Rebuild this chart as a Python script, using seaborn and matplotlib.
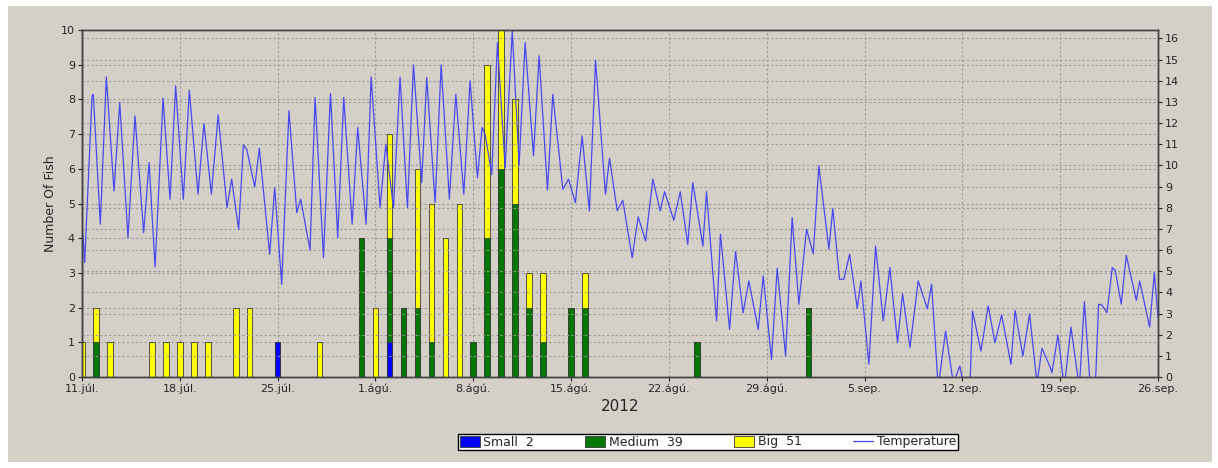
import pandas as pd
import seaborn as sns
import matplotlib.pyplot as plt
from matplotlib.patches import Patch, Rectangle
from matplotlib.lines import Line2D

# Fish caught per day (only days with a catch)
fish_dates = ['2012-07-11', '2012-07-12', '2012-07-13', '2012-07-16', '2012-07-17',
              '2012-07-18', '2012-07-19', '2012-07-20', '2012-07-22', '2012-07-23',
              '2012-07-25', '2012-07-28', '2012-07-31', '2012-08-01', '2012-08-02',
              '2012-08-03', '2012-08-04', '2012-08-05', '2012-08-06', '2012-08-07',
              '2012-08-08', '2012-08-09', '2012-08-10', '2012-08-11', '2012-08-12',
              '2012-08-13', '2012-08-15', '2012-08-16', '2012-08-24', '2012-09-01']
small = [0, 0, 0, 0, 0, 0, 0, 0, 0, 0, 1, 0, 0, 0, 1,
         0, 0, 0, 0, 0, 0, 0, 0, 0, 0, 0, 0, 0, 0, 0]
medium = [0, 1, 0, 0, 0, 0, 0, 0, 0, 0, 0, 0, 4, 0, 3,
          2, 2, 1, 0, 0, 1, 4, 6, 5, 2, 1, 2, 2, 1, 2]
big = [1, 1, 1, 1, 1, 1, 1, 1, 2, 2, 0, 1, 0, 2, 3,
       0, 4, 4, 4, 5, 0, 5, 4, 3, 1, 2, 0, 1, 0, 0]

tick_labels = ['11.júl.', '18.júl.', '25.júl.', '1.ágú.', '8.ágú.', '15.ágú.',
               '22.ágú.', '29.ágú.', '5.sep.', '12.sep.', '19.sep.', '26.sep.']

# Temperature (days after 11 July, deg C), peaks and troughs
temp_day = [0.07, 0.19, 0.72, 0.81, 1.31, 1.74, 2.29, 2.70, 3.29, 3.79, 4.41, 4.80,
            5.23, 5.80, 6.30, 6.70, 7.25, 7.68, 8.30, 8.73, 9.26, 9.74, 10.38, 10.71,
            11.21, 11.55, 11.79, 12.36, 12.69, 13.43, 13.79, 14.29, 14.81, 15.37, 15.65,
            16.32, 16.68, 17.28, 17.78, 18.30, 18.73, 19.33, 19.73, 20.33, 20.69, 21.33,
            21.74, 22.29, 22.76, 23.29, 23.72, 24.31, 24.67, 25.27, 25.70, 26.29, 26.75,
            27.32, 27.77, 28.30, 28.63, 28.85, 29.32, 29.73, 30.28, 30.79, 31.28, 31.71,
            32.31, 32.71, 33.31, 33.69, 34.41, 34.81, 35.31, 35.79, 36.31, 36.75, 37.46,
            37.75, 38.30, 38.70, 39.37, 39.80, 40.33, 40.85, 41.38, 41.69, 42.35, 42.81,
            43.35, 43.71, 44.43, 44.69, 45.41, 45.69, 46.34, 46.77, 47.31, 47.72, 48.39,
            48.75, 49.34, 49.75, 50.35, 50.82, 51.30, 51.85, 52.33, 52.73, 53.45, 53.73,
            54.21, 54.52, 54.93, 55.48, 55.74, 56.31, 56.79, 57.34, 57.81, 58.36, 58.72,
            59.25, 59.84, 60.49, 60.80, 61.27, 61.80, 62.35, 62.82, 63.13, 63.54, 63.73,
            64.33, 64.85, 65.33, 65.81, 66.48, 66.77, 67.33, 67.81, 68.34, 68.70, 69.25,
            69.41, 69.84, 70.29, 70.77, 71.37, 71.73, 72.16, 72.51, 72.75, 72.99, 73.35,
            73.73, 73.94, 74.37, 74.73, 75.45, 75.69, 76.40, 76.74, 77.00]
temp_c = [6.75, 5.41, 13.29, 13.36, 7.22, 14.18, 8.79, 12.97, 6.59, 12.34, 6.82, 10.13,
          5.20, 13.18, 8.40, 13.76, 8.40, 13.55, 8.64, 11.98, 8.64, 12.39, 8.01, 9.35,
          6.98, 10.97, 10.76, 8.98, 10.81, 5.80, 8.95, 4.38, 12.58, 7.77, 8.40,
          5.99, 13.21, 5.64, 13.40, 6.59, 13.21, 7.22, 11.79, 7.22, 14.18, 8.01,
          11.00, 8.01, 14.18, 8.01, 14.75, 9.19, 14.15, 8.24, 14.75, 8.40, 13.36,
          8.64, 14.00, 9.42, 11.79, 11.47, 9.57, 15.81, 9.90, 16.36, 10.01, 15.81,
          10.45, 15.18, 8.83, 13.36, 8.87, 9.35, 8.24, 11.39, 7.85, 14.97, 8.64,
          10.34, 7.85, 8.35, 5.64, 7.57, 6.43, 9.35, 7.85, 8.76, 7.41, 8.76,
          6.27, 9.19, 6.19, 8.76, 2.65, 6.75, 2.25, 5.93, 3.04, 4.54, 2.25,
          4.78, 0.83, 5.14, 0.99, 7.53, 3.44, 6.98, 5.83, 9.98, 6.04, 7.96,
          4.62, 4.62, 5.80, 3.25, 4.54, 0.60, 6.19, 2.65, 5.17, 1.62, 3.94,
          1.39, 4.54, 3.23, 4.38, -0.5, 2.17, -0.3, 0.52, -0.5, -0.5, 3.12,
          1.23, 3.36, 1.62, 2.93, 0.60, 3.15, 0.99, 2.99, -0.3, 1.36, 0.52,
          0.20, 1.99, -0.5, 2.36, -0.5, 3.56, -0.5, -0.5, 3.44, 3.40, 3.04,
          5.17, 5.04, 3.44, 5.75, 3.62, 4.54, 2.36, 4.93, 2.81]

start = pd.Timestamp('2012-07-11')
fish = pd.DataFrame({'date': pd.to_datetime(fish_dates), 'small': small,
                     'medium': medium, 'big': big})
fish['day'] = (fish['date'] - start).dt.days
fish['sm'] = fish['small'] + fish['medium']
fish['total'] = fish['sm'] + fish['big']

sns.set_style('white')
plt.rcParams['font.family'] = ['DejaVu Sans']

bg = '#d4d0c8'
grid_col = '#9c9c9c'
line_col = '#4848f0'
colors = {'small': '#0000ff', 'sm': '#007800', 'total': '#ffff00'}

fig = plt.figure(figsize=(12.18, 4.68), dpi=100, facecolor='white')
fig.patches.append(Rectangle((8 / 1218, 6 / 468), 1204 / 1218, 456 / 468,
                             transform=fig.transFigure, facecolor=bg,
                             edgecolor='none', zorder=-10))
ax = fig.add_axes([82 / 1218, 91 / 468, 1076 / 1218, 347 / 468])
ax.set_facecolor(bg)

# Stacked bars: draw cumulative totals, largest first
for col in ['total', 'sm', 'small']:
    sns.barplot(data=fish, x='day', y=col, native_scale=True, width=0.4,
                color=colors[col], saturation=1, errorbar=None, ax=ax,
                edgecolor='#3a3a3a', linewidth=0.6)

ax2 = ax.twinx()
sns.lineplot(x=temp_day, y=temp_c, ax=ax2, color=line_col, linewidth=0.9,
             estimator=None, sort=False)

ax.set_xlim(0, 77)
ax.set_ylim(0, 10)
ax2.set_ylim(0, 16.4)
ax.set_xticks(range(0, 78, 7))
ax.set_xticklabels(tick_labels)
ax.set_yticks(range(11))
ax2.set_yticks(range(17))

ax.grid(True, color=grid_col, linestyle=(0, (2, 2)), linewidth=0.8)
ax2.grid(True, axis='y', color=grid_col, linestyle=(0, (2, 2)), linewidth=0.8)
ax.set_axisbelow(True)

for a in (ax, ax2):
    for s in a.spines.values():
        s.set_color('#404040')
        s.set_linewidth(1.0)
ax.spines['left'].set_color('black')
ax.tick_params(axis='both', labelsize=8, length=3, direction='out',
               left=True, bottom=True, pad=2)
ax2.tick_params(axis='y', labelsize=8, length=3, direction='out', right=True, pad=2)

ax.set_xlabel('2012', fontsize=11, labelpad=3)
ax.set_ylabel('Number Of Fish', fontsize=9, labelpad=3)
ax2.set_ylabel('')

handles = [Patch(facecolor=colors['small'], edgecolor='#3a3a3a', linewidth=0.6),
           Patch(facecolor=colors['sm'], edgecolor='#3a3a3a', linewidth=0.6),
           Patch(facecolor=colors['total'], edgecolor='#3a3a3a', linewidth=0.6),
           Line2D([], [], color=line_col, linewidth=0.9)]
labels = [f'Small  {sum(small)}', f'Medium  {sum(medium)}', f'Big  {sum(big)}',
          'Temperature']
leg = fig.legend(handles, labels, loc='center', bbox_to_anchor=(708 / 1218, 1 - 442 / 468),
                 ncol=4, frameon=True, fancybox=False, edgecolor='black',
                 facecolor='white', framealpha=1, fontsize=9, columnspacing=4.1,
                 handlelength=1.6, handleheight=1.0, borderpad=0.15,
                 handletextpad=0.3)
leg.get_frame().set_linewidth(1.0)

fig.savefig('out.png', dpi=100, facecolor=fig.get_facecolor())
